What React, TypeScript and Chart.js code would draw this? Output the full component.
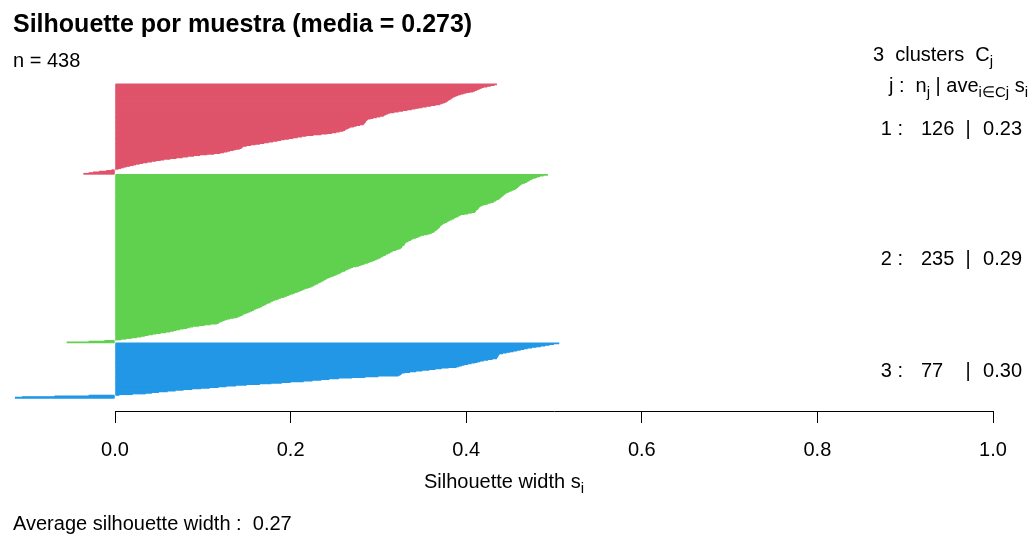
import React, { useEffect, useRef } from 'react';
import { Chart, registerables } from 'chart.js';

Chart.register(...registerables);

// ---------------- data ----------------
const clusterIds = [1, 2, 3];
const clusterColors = ['#DF536B', '#61D04F', '#2297E6'];
const clusterSizes = [126, 235, 77];
const clusterAverages = ['0.23', '0.29', '0.30'];
const overallMean = '0.273';
const averageWidth = '0.27';
const sampleCount = 438;
const xTicks = [0, 0.2, 0.4, 0.6, 0.8, 1.0];

// silhouette widths, sorted decreasing within each cluster
const cluster1 = [
  0.435, 0.432, 0.428, 0.424, 0.420,
  0.418, 0.416, 0.414, 0.412, 0.410, 0.408,
  0.404, 0.400, 0.397, 0.394,
  0.391, 0.389, 0.387, 0.385,
  0.384, 0.383, 0.382, 0.380, 0.379, 0.378,
  0.376, 0.374, 0.372, 0.370,
  0.365, 0.360, 0.355,
  0.350, 0.346, 0.342, 0.338, 0.333,
  0.328, 0.323, 0.318, 0.313,
  0.311, 0.309, 0.307, 0.306,
  0.302, 0.298, 0.294, 0.291, 0.288,
  0.287, 0.286, 0.286, 0.285, 0.284, 0.284, 0.283,
  0.279, 0.275, 0.272, 0.268,
  0.266, 0.265, 0.263, 0.262, 0.260,
  0.256, 0.252, 0.247, 0.242,
  0.235, 0.226, 0.218,
  0.213, 0.208, 0.203,
  0.198, 0.193, 0.189, 0.185, 0.180,
  0.175, 0.170, 0.165,
  0.160, 0.155, 0.150, 0.146,
  0.145, 0.144, 0.142,
  0.138, 0.135, 0.131, 0.128, 0.124, 0.120,
  0.113, 0.105, 0.097,
  0.090, 0.083, 0.077, 0.070,
  0.063, 0.056,
  0.052, 0.047, 0.042, 0.037, 0.032,
  0.028, 0.024, 0.021, 0.017, 0.013, 0.010,
  0.007, 0.004, 0.001,
  -0.004, -0.010, -0.018, -0.025, -0.030, -0.036,
];

const cluster2 = [
  0.493, 0.488,
  0.484, 0.481, 0.479, 0.476,
  0.475, 0.473, 0.472, 0.470, 0.469,
  0.467, 0.465, 0.463,
  0.462, 0.461, 0.460, 0.459, 0.458, 0.457, 0.456, 0.454,
  0.452, 0.450, 0.448, 0.446,
  0.445, 0.444, 0.443, 0.442, 0.441, 0.440, 0.439, 0.438,
  0.437, 0.435, 0.434, 0.432, 0.431,
  0.428, 0.425, 0.423, 0.420, 0.418, 0.416,
  0.415, 0.414, 0.414, 0.413, 0.412, 0.411, 0.411, 0.410,
  0.406, 0.402, 0.398, 0.394,
  0.392, 0.391, 0.389, 0.387, 0.386, 0.384, 0.382,
  0.381, 0.379, 0.378, 0.376, 0.374,
  0.373, 0.372, 0.371, 0.370, 0.370, 0.369, 0.368, 0.367, 0.366,
  0.365, 0.364, 0.363, 0.361, 0.359, 0.356, 0.352,
  0.349, 0.347, 0.345, 0.343, 0.340,
  0.338, 0.337, 0.335, 0.334, 0.332,
  0.331, 0.330, 0.330, 0.329, 0.328, 0.327, 0.327, 0.326, 0.325,
  0.322, 0.320, 0.317,
  0.316, 0.314, 0.313, 0.311, 0.309,
  0.308, 0.306, 0.305, 0.303, 0.302,
  0.300, 0.298, 0.296, 0.294,
  0.292, 0.290, 0.288, 0.285, 0.283, 0.280, 0.278, 0.275, 0.271,
  0.269, 0.267, 0.265, 0.263, 0.262, 0.260,
  0.258, 0.257, 0.255, 0.253, 0.251, 0.249,
  0.247, 0.245, 0.243, 0.241, 0.240, 0.238, 0.237,
  0.235, 0.234, 0.232, 0.231, 0.229, 0.227, 0.226,
  0.224, 0.222, 0.220, 0.217, 0.215, 0.213, 0.211,
  0.209, 0.207, 0.205, 0.203, 0.200, 0.198, 0.196,
  0.194, 0.192, 0.189, 0.187, 0.185, 0.182, 0.180,
  0.178, 0.177, 0.175, 0.173, 0.172, 0.170, 0.168, 0.167, 0.165,
  0.163, 0.161, 0.159, 0.158, 0.156, 0.154, 0.152, 0.150,
  0.148, 0.146, 0.145, 0.143, 0.141, 0.139,
  0.135, 0.131, 0.128, 0.125, 0.123,
  0.121, 0.119, 0.118, 0.116,
  0.109, 0.102, 0.096, 0.089,
  0.085, 0.082, 0.078, 0.074, 0.070, 0.067, 0.063,
  0.058, 0.052, 0.047,
  0.043, 0.038, 0.034, 0.030, 0.025,
  0.019, 0.013, 0.007, 0.001,
  -0.012, -0.030, -0.055,
];

const cluster3 = [
  0.506, 0.500, 0.495,
  0.490, 0.485, 0.480, 0.475, 0.470,
  0.466, 0.462, 0.458, 0.454, 0.450, 0.446, 0.442,
  0.438, 0.437, 0.437, 0.436, 0.436, 0.435, 0.435,
  0.430, 0.425, 0.420, 0.416, 0.413, 0.410,
  0.406, 0.402, 0.398, 0.395, 0.392, 0.389,
  0.380, 0.372, 0.365, 0.358, 0.350, 0.343, 0.336, 0.330,
  0.327, 0.326, 0.325, 0.323,
  0.300, 0.285, 0.270, 0.255, 0.244,
  0.235, 0.225, 0.215, 0.200, 0.190, 0.178, 0.165,
  0.150, 0.138, 0.127,
  0.118, 0.108, 0.098, 0.088, 0.078, 0.069,
  0.060, 0.050, 0.042, 0.035,
  0.020, 0.005,
  -0.030, -0.069, -0.106, -0.114,
];

const clusterValues = [cluster1, cluster2, cluster3];

const FONT = '"Liberation Sans", Arial, Helvetica, sans-serif';
const CLUSTER_GAP = 0.5; // gap between clusters, in bar widths
const AXIS_GAP = 18; // empty rows between last bar and the x axis

type Piece = { t: string; sub?: boolean };

function drawRich(
  ctx: CanvasRenderingContext2D,
  pieces: Piece[],
  x: number,
  baseline: number,
  align: 'left' | 'right' | 'center',
  size: number,
  subSize: number
) {
  const fontFor = (p: Piece) => `${p.sub ? subSize : size}px ${FONT}`;
  const widths = pieces.map((p) => {
    ctx.font = fontFor(p);
    return ctx.measureText(p.t).width;
  });
  const total = widths.reduce((a, b) => a + b, 0);
  let cx = align === 'left' ? x : align === 'right' ? x - total : x - total / 2;
  ctx.textAlign = 'left';
  ctx.textBaseline = 'alphabetic';
  pieces.forEach((p, i) => {
    ctx.font = fontFor(p);
    ctx.fillText(p.t, cx, baseline + (p.sub ? size * 0.25 : 0));
    cx += widths[i];
  });
}

export default function App() {
  const canvasRef = useRef<HTMLCanvasElement | null>(null);

  useEffect(() => {
    document.body.style.margin = '0';
    const canvas = canvasRef.current;
    if (!canvas) return;

    // build bar rows from the cluster arrays
    const points: { x: number; y: number }[] = [];
    const colors: string[] = [];
    const mids: number[] = [];
    let pos = 0;
    clusterValues.forEach((vals, c) => {
      const start = pos;
      vals.forEach((v) => {
        points.push({ x: v, y: pos });
        colors.push(clusterColors[c]);
        pos += 1;
      });
      mids.push((start + pos - 1) / 2);
      pos += CLUSTER_GAP;
    });
    const lastPos = pos - CLUSTER_GAP - 1;

    const textPlugin = {
      id: 'silhouetteText',
      afterDraw(chart: any) {
        const ctx: CanvasRenderingContext2D = chart.ctx;
        const yScale = chart.scales.y;
        const xScale = chart.scales.x;
        ctx.save();
        ctx.fillStyle = '#000';

        // title
        ctx.font = `bold 25px ${FONT}`;
        ctx.textAlign = 'left';
        ctx.textBaseline = 'alphabetic';
        ctx.fillText(`Silhouette por muestra (media = ${overallMean})`, 13, 32);

        // n
        drawRich(ctx, [{ t: `n = ${sampleCount}` }], 13, 67, 'left', 20, 15);

        // header on the right
        drawRich(
          ctx,
          [{ t: `${clusterIds.length}  clusters  C` }, { t: 'j', sub: true }],
          873,
          61,
          'left',
          20,
          15
        );
        drawRich(
          ctx,
          [
            { t: 'j :  n' },
            { t: 'j', sub: true },
            { t: ' | ave' },
            { t: 'i\u2208Cj', sub: true },
            { t: ' s' },
            { t: 'i', sub: true },
          ],
          1028,
          92,
          'right',
          20,
          15
        );

        // per-cluster rows
        clusterIds.forEach((id, c) => {
          const py = yScale.getPixelForValue(mids[c]) + 6;
          ctx.font = `20px ${FONT}`;
          ctx.textBaseline = 'alphabetic';
          ctx.textAlign = 'right';
          ctx.fillText(`${id} :`, 903, py);
          ctx.textAlign = 'left';
          ctx.fillText(String(clusterSizes[c]), 921, py);
          ctx.textAlign = 'center';
          ctx.fillText('|', 968, py);
          ctx.textAlign = 'right';
          ctx.fillText(clusterAverages[c], 1022, py);
        });

        // x axis title
        const xMid = (xScale.getPixelForValue(-0.159) + xScale.getPixelForValue(1.045)) / 2;
        drawRich(
          ctx,
          [{ t: 'Silhouette width s' }, { t: 'i', sub: true }],
          xMid,
          488,
          'center',
          20,
          15
        );

        // average width
        drawRich(ctx, [{ t: `Average silhouette width :  ${averageWidth}` }], 13, 530, 'left', 20, 15);

        ctx.restore();
      },
    };

    const chart = new Chart(canvas, {
      type: 'bar',
      data: {
        datasets: [
          {
            data: points as any,
            backgroundColor: colors,
            borderWidth: 0,
            barPercentage: 2.5,
            categoryPercentage: 1,
            inflateAmount: 0,
            clip: false as any,
          },
        ],
      },
      options: {
        indexAxis: 'y',
        responsive: false,
        animation: false,
        events: [],
        layout: { padding: { left: 115, right: 41, top: 84, bottom: 58 } },
        plugins: {
          legend: { display: false },
          tooltip: { enabled: false },
          title: { display: false },
        },
        scales: {
          x: {
            type: 'linear',
            position: 'bottom',
            min: 0,
            max: 1,
            offset: false,
            afterBuildTicks: (axis: any) => {
              axis.ticks = xTicks.map((v) => ({ value: v }));
            },
            ticks: {
              autoSkip: false,
              maxRotation: 0,
              padding: 15,
              color: '#000',
              font: { family: FONT, size: 20 },
              callback: (v: any) => Number(v).toFixed(1),
            },
            grid: {
              display: true,
              drawOnChartArea: false,
              drawTicks: true,
              tickLength: 12,
              color: '#000',
              lineWidth: 1,
            },
            border: { display: true, color: '#000', width: 1 },
          },
          y: {
            type: 'linear',
            display: false,
            reverse: true,
            offset: false,
            min: -0.5,
            max: lastPos + 0.5 + AXIS_GAP,
          },
        },
      },
      plugins: [textPlugin],
    });

    return () => chart.destroy();
  }, []);

  return (
    <div style={{ width: 1034, height: 535 }}>
      <canvas ref={canvasRef} width={1034} height={535} style={{ display: 'block' }} />
    </div>
  );
}
